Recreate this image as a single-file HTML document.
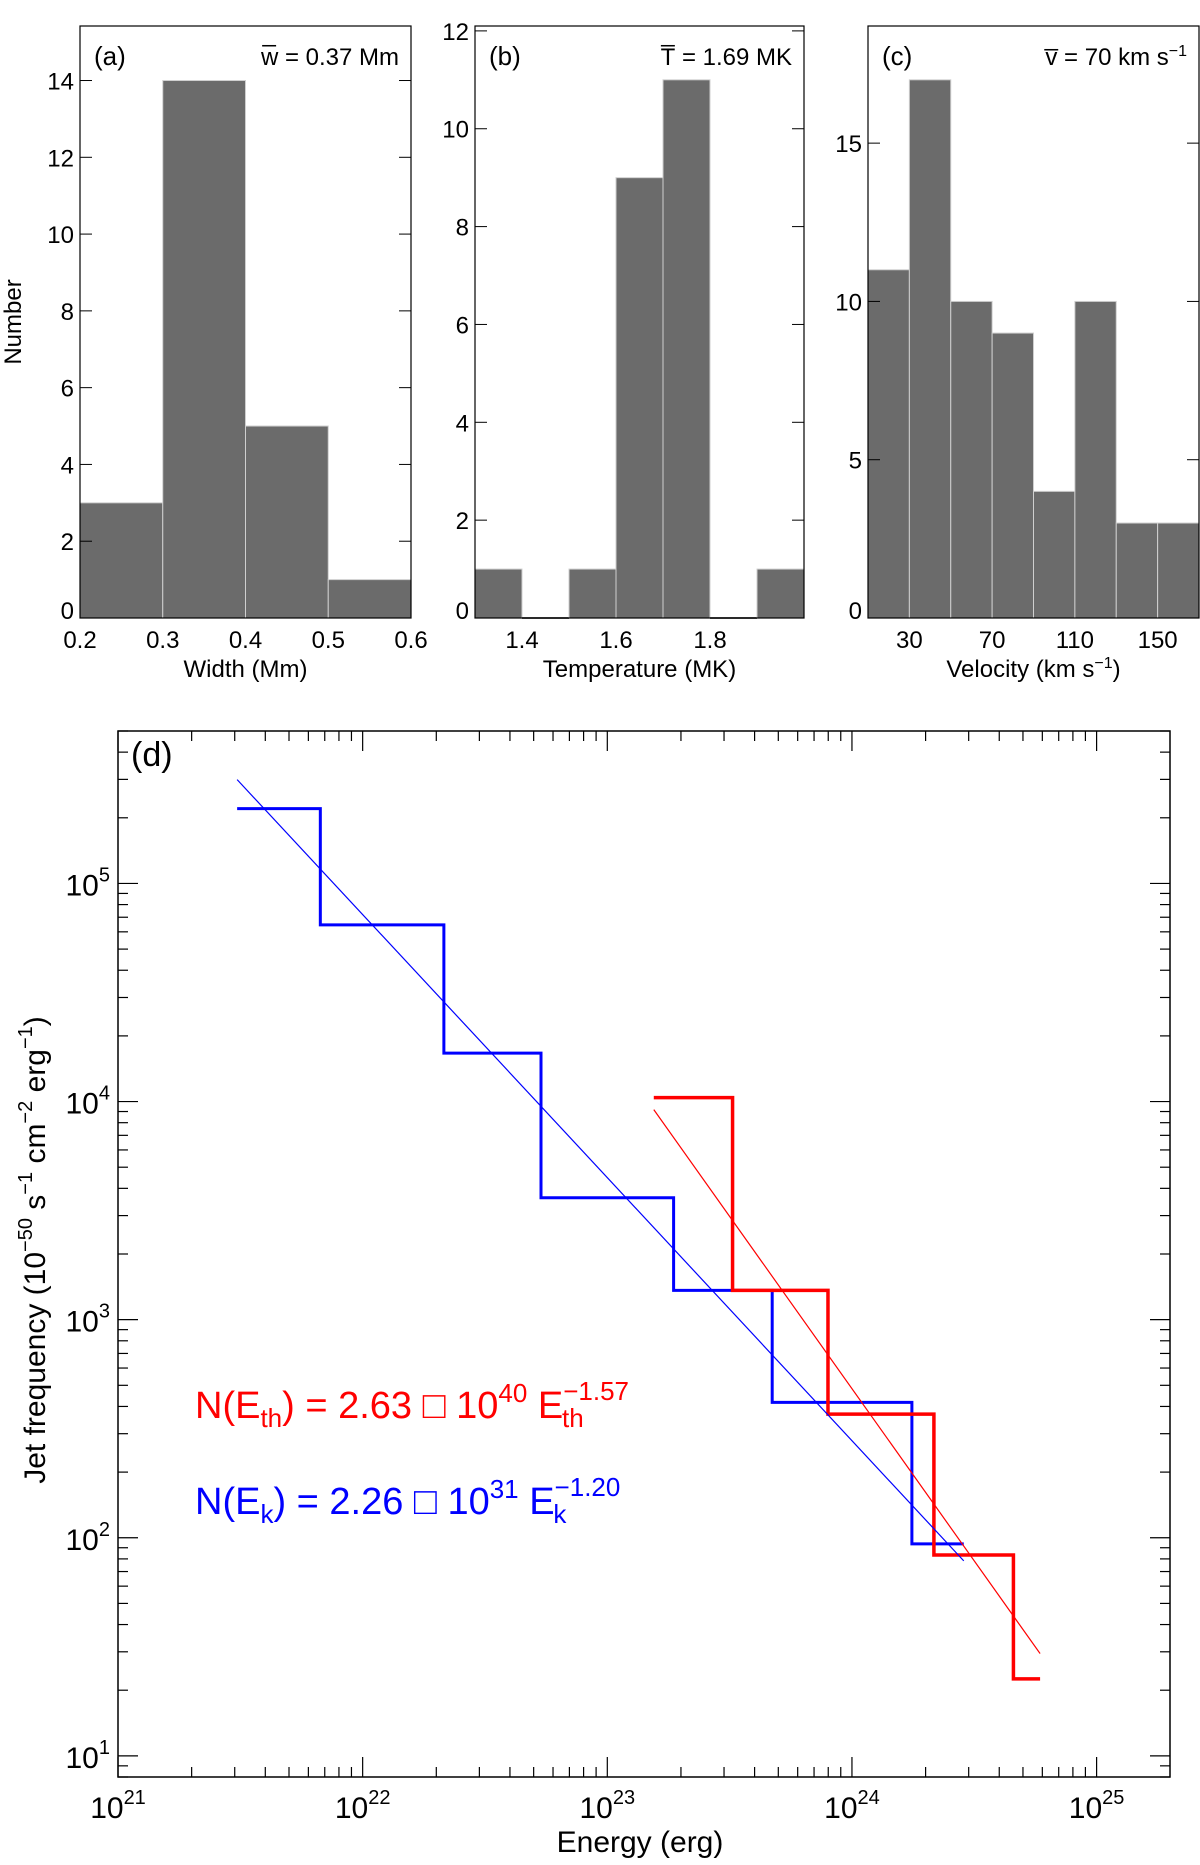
<!DOCTYPE html>
<html><head><meta charset="utf-8">
<style>
html,body{margin:0;padding:0;background:#fff;}
svg{display:block;font-family:"Liberation Sans",sans-serif;}
</style></head>
<body>
<svg id="chart" width="1200" height="1865" viewBox="0 0 1200 1865" xmlns="http://www.w3.org/2000/svg"></svg>
<script>
// ---- Panel (a) data ----
const widthEdges = [0.2, 0.3, 0.4, 0.5, 0.6];
const widthCounts = [3, 14, 5, 1];
const widthTicks = [0.2, 0.3, 0.4, 0.5, 0.6];
const countTicksA = [0, 2, 4, 6, 8, 10, 12, 14];
// ---- Panel (b) data ----
const tempEdges = [1.3, 1.4, 1.5, 1.6, 1.7, 1.8, 1.9, 2.0];
const tempCounts = [1, 0, 1, 9, 11, 0, 1];
const tempTicks = [1.4, 1.6, 1.8];
const countTicksB = [0, 2, 4, 6, 8, 10, 12];
// ---- Panel (c) data ----
const velEdges = [10, 30, 50, 70, 90, 110, 130, 150, 170];
const velCounts = [11, 17, 10, 9, 4, 10, 3, 3];
const velTicks = [30, 70, 110, 150];
const countTicksC = [0, 5, 10, 15];
// ---- Panel (d) data (log10 values) ----
const blueEdges = [21.487, 21.827, 22.332, 22.729, 23.271, 23.674, 24.245, 24.457];
const blueFreq = [5.343, 4.810, 4.222, 3.559, 3.134, 2.621, 1.972];
const redEdges = [23.190, 23.512, 23.902, 24.335, 24.660, 24.769];
const redFreq = [4.018, 3.134, 2.567, 1.921, 1.353];
const blueFitX = [21.487, 24.457];
const blueFitY = [5.476, 1.894];
const redFitX = [23.190, 24.769];
const redFitY = [3.963, 1.469];
const energyDecades = [21, 22, 23, 24, 25];
const freqDecades = [1, 2, 3, 4, 5];

const NS = "http://www.w3.org/2000/svg";
const svg = document.getElementById('chart');
function mk(tag, attrs, parent) {
  const e = document.createElementNS(NS, tag);
  for (const k in attrs) e.setAttribute(k, attrs[k]);
  (parent || svg).appendChild(e);
  return e;
}
function txt(x, y, s, size, anchor, parent, fill) {
  const t = mk('text', {x: x, y: y, 'font-size': size, 'text-anchor': anchor || 'middle', fill: fill || '#000'}, parent);
  t.innerHTML = s;
  return t;
}

function histPanel(name, L, R, T, B, xmin, xmax, ymax, edges, counts, xticks, yticks, xlabel, tag, meanHTML, fmt) {
  const g = mk('g', {});
  
  
  const sx = v => L + (v - xmin) / (xmax - xmin) * (R - L);
  const sy = v => B - v / ymax * (B - T);
  for (let i = 0; i < counts.length; i++) {
    if (counts[i] <= 0) { mk('line', {x1: sx(edges[i]), x2: sx(edges[i+1]), y1: B, y2: B, stroke: '#6b6b6b', 'stroke-width': 2}, g); continue; }
    const r = mk('rect', {x: sx(edges[i]), y: sy(counts[i]), width: sx(edges[i+1]) - sx(edges[i]), height: B - sy(counts[i]), fill: '#6b6b6b', stroke: '#cfcfcf', 'stroke-width': 1}, g);
    
    
  }
  mk('rect', {x: L, y: T, width: R - L, height: B - T, fill: 'none', stroke: '#000', 'stroke-width': 1.2}, g);
  yticks.forEach(v => {
    mk('line', {x1: L, x2: L + 12, y1: sy(v), y2: sy(v), stroke: '#000', 'stroke-width': 1}, g);
    mk('line', {x1: R, x2: R - 12, y1: sy(v), y2: sy(v), stroke: '#000', 'stroke-width': 1}, g);
    txt(L - 6, sy(v) + 9 - (v === 0 ? 8 : 0), String(v), 24, 'end', g);
  });
  xticks.forEach(v => {
    txt(sx(v), 648, fmt(v), 24, 'middle', g);
  });
  txt((L + R) / 2, 677, xlabel, 24, 'middle', g);
  txt(L + 14, 65, tag, 26, 'start', g);
  txt(R - 12, 65, meanHTML, 24, 'end', g);
}

histPanel('width-histogram', 80, 411, 26, 618, 0.2, 0.6, 15.42, widthEdges, widthCounts, widthTicks, countTicksA, 'Width (Mm)', '(a)', 'w&#773; = 0.37 Mm', v => v.toFixed(1));
histPanel('temperature-histogram', 475, 804, 26, 618, 1.3, 2.0, 12.1, tempEdges, tempCounts, tempTicks, countTicksB, 'Temperature (MK)', '(b)', 'T&#773; = 1.69 MK', v => v.toFixed(1));
histPanel('velocity-histogram', 868, 1199, 26, 618, 10, 170, 18.7, velEdges, velCounts, velTicks, countTicksC, 'Velocity (km s<tspan dy="-9" font-size="16">&#8722;1</tspan><tspan dy="9">)</tspan>', '(c)', 'v&#773; = 70 km s<tspan dy="-9" font-size="16">&#8722;1</tspan>', v => String(v));
const nl = txt(0, 0, 'Number', 24, 'middle');
nl.setAttribute('transform', 'translate(21,322) rotate(-90)');



// ---- Panel d ----
const dL = 118, dR = 1170, dT = 731, dB = 1777;
const xLo = 21, xHi = 25.3, yLo = Math.log10(8), yHi = Math.log10(5e5);
const X = v => dL + (v - xLo) / (xHi - xLo) * (dR - dL);
const Y = v => dB - (v - yLo) / (yHi - yLo) * (dB - dT);
const gd = mk('g', {});


mk('rect', {x: dL, y: dT, width: dR - dL, height: dB - dT, fill: 'none', stroke: '#000', 'stroke-width': 1.5}, gd);
for (let d = 21; d <= 25; d++) {
  for (let m = 1; m <= 9; m++) {
    const v = d + Math.log10(m);
    if (v > xHi) continue;
    const len = m === 1 ? 20 : 10;
    mk('line', {x1: X(v), x2: X(v), y1: dB, y2: dB - len, stroke: '#000', 'stroke-width': 1.2}, gd);
    mk('line', {x1: X(v), x2: X(v), y1: dT, y2: dT + len, stroke: '#000', 'stroke-width': 1.2}, gd);
  }
}
for (let d = 0; d <= 5; d++) {
  for (let m = 1; m <= 9; m++) {
    const v = d + Math.log10(m);
    if (v < yLo || v > yHi) continue;
    const len = m === 1 ? 20 : 10;
    mk('line', {x1: dL, x2: dL + len, y1: Y(v), y2: Y(v), stroke: '#000', 'stroke-width': 1.2}, gd);
    mk('line', {x1: dR, x2: dR - len, y1: Y(v), y2: Y(v), stroke: '#000', 'stroke-width': 1.2}, gd);
  }
}
energyDecades.forEach(d => {
  txt(X(d), 1818, '10<tspan dy="-14" font-size="20">' + d + '</tspan>', 30, 'middle', gd);
});
freqDecades.forEach(d => {
  txt(dL - 8, Y(d) + 12, '10<tspan dy="-14" font-size="20">' + d + '</tspan>', 30, 'end', gd);
});
txt(640, 1852, 'Energy (erg)', 30, 'middle', gd);
const yl = txt(0, 0, 'Jet frequency (10<tspan dy="-13" font-size="20">&#8722;50</tspan><tspan dy="13"> s</tspan><tspan dy="-13" font-size="20">&#8722;1</tspan><tspan dy="13"> cm</tspan><tspan dy="-13" font-size="20">&#8722;2</tspan><tspan dy="13"> erg</tspan><tspan dy="-13" font-size="20">&#8722;1</tspan><tspan dy="13">)</tspan>', 30, 'middle', gd);
yl.setAttribute('transform', 'translate(45,1250) rotate(-90)');
txt(131, 766, '(d)', 34, 'start', gd);

function stepPath(edges, vals) {
  let d = 'M' + X(edges[0]) + ',' + Y(vals[0]);
  for (let i = 0; i < vals.length; i++) {
    d += ' L' + X(edges[i+1]) + ',' + Y(vals[i]);
    if (i + 1 < vals.length) d += ' L' + X(edges[i+1]) + ',' + Y(vals[i+1]);
  }
  return d;
}
const bs = mk('path', {d: stepPath(blueEdges, blueFreq), fill: 'none', stroke: '#0000ff', 'stroke-width': 3}, gd);


const rs = mk('path', {d: stepPath(redEdges, redFreq), fill: 'none', stroke: '#ff0000', 'stroke-width': 3.5}, gd);


const bf = mk('line', {x1: X(blueFitX[0]), y1: Y(blueFitY[0]), x2: X(blueFitX[1]), y2: Y(blueFitY[1]), stroke: '#0000ff', 'stroke-width': 1.2}, gd);


const rf = mk('line', {x1: X(redFitX[0]), y1: Y(redFitY[0]), x2: X(redFitX[1]), y2: Y(redFitY[1]), stroke: '#ff0000', 'stroke-width': 1.2}, gd);



const e1 = txt(195, 1418, 'N(E<tspan dy="9" font-size="26">th</tspan><tspan dy="-9">) = 2.63 &#9633; 10</tspan><tspan dy="-16" font-size="26">40</tspan><tspan dy="16"> E</tspan><tspan dy="-18" font-size="26">&#8722;1.57</tspan><tspan dx="-67" dy="27" font-size="26">th</tspan>', 38, 'start', gd, '#ff0000');


const e2 = txt(195, 1514, 'N(E<tspan dy="9" font-size="26">k</tspan><tspan dy="-9">) = 2.26 &#9633; 10</tspan><tspan dy="-16" font-size="26">31</tspan><tspan dy="16"> E</tspan><tspan dy="-18" font-size="26">&#8722;1.20</tspan><tspan dx="-67" dy="27" font-size="26">k</tspan>', 38, 'start', gd, '#0000ff');


</script>
</body></html>
